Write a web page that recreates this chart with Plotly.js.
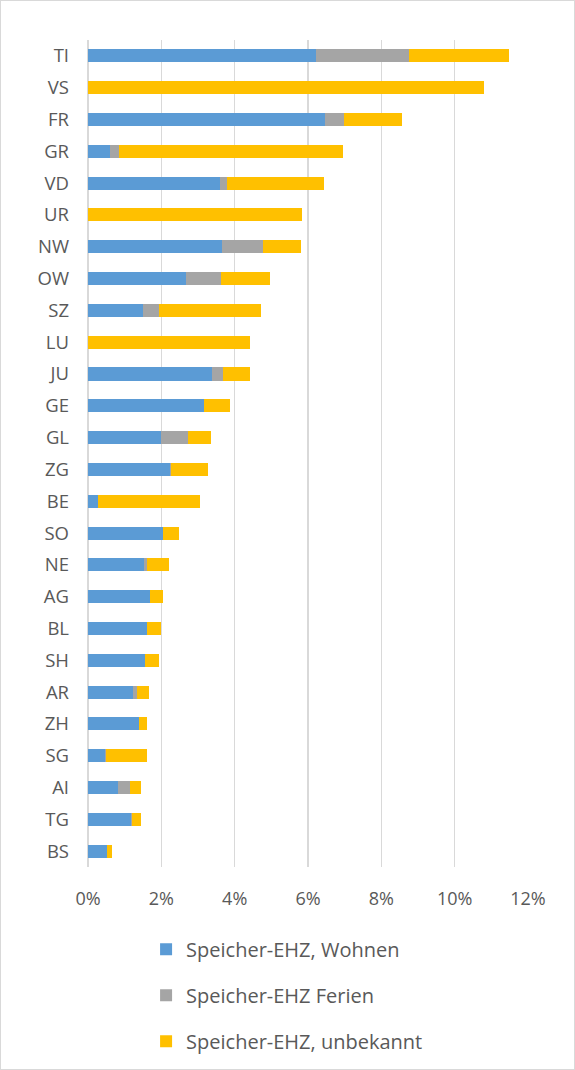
<!DOCTYPE html>
<html>
<head>
<meta charset="utf-8">
<script src="https://cdn.plot.ly/plotly-3.0.1.min.js"></script>
<style>
  html, body { margin: 0; padding: 0; background: #fff; }
  #chart { width: 573px; height: 1068px; border: 1px solid #d9d9d9; }
</style>
</head>
<body>
<div id="chart"></div>
<script>
const cantons = ["TI","VS","FR","GR","VD","UR","NW","OW","SZ","LU","JU","GE","GL","ZG","BE","SO","NE","AG","BL","SH","AR","ZH","SG","AI","TG","BS"];
const wohnen =   [6.23, 0,     6.45, 0.61, 3.59, 0,    3.66, 2.67, 1.51, 0,    3.38, 3.16, 1.98, 2.23, 0.28, 2.05, 1.54, 1.70, 1.62, 1.55, 1.22, 1.40, 0.45, 0.83, 1.17, 0.53];
const ferien =   [2.53, 0,     0.54, 0.24, 0.21, 0,    1.11, 0.95, 0.43, 0,    0.29, 0,    0.76, 0.04, 0,    0,    0.06, 0,    0,    0,    0.12, 0,    0.05, 0.32, 0.02, 0];
const unbekannt = [2.73, 10.81, 1.58, 6.10, 2.64, 5.84, 1.05, 1.35, 2.77, 4.42, 0.74, 0.71, 0.62, 1.00, 2.78, 0.42, 0.62, 0.35, 0.38, 0.39, 0.33, 0.22, 1.10, 0.30, 0.26, 0.13];
const seriesNames = ["Speicher-EHZ, Wohnen", "Speicher-EHZ Ferien", "Speicher-EHZ, unbekannt"];
const xTicks = [0, 2, 4, 6, 8, 10, 12];

const colors = ["#5B9BD5", "#A5A5A5", "#FFC000"];
const vals = [wohnen, ferien, unbekannt];
const font = "Open Sans, Liberation Sans, sans-serif";

const traces = vals.map((v, i) => ({
  type: "bar",
  orientation: "h",
  y: cantons,
  x: v,
  name: seriesNames[i],
  legendgroup: "g" + i,
  marker: { color: colors[i], line: { width: 0 } },
  hoverinfo: "x+y+name"
}));

const layout = {
  width: 573,
  height: 1068,
  barmode: "stack",
  bargap: 0.59,
  paper_bgcolor: "#fff",
  plot_bgcolor: "#fff",
  margin: { l: 87, r: 46, t: 39, b: 202, autoexpand: false },
  font: { family: font, color: "#595959", size: 17 },
  xaxis: {
    range: [0, 12],
    tickvals: xTicks,
    ticktext: xTicks.map(t => t + "%"),
    showgrid: true,
    gridcolor: "#d9d9d9",
    gridwidth: 1.5,
    zeroline: true,
    zerolinecolor: "#d9d9d9",
    zerolinewidth: 1.5,
    showline: false,
    ticks: "",
    ticklabelstandoff: 19,
    tickfont: { size: 18, color: "#595959", family: font },
    fixedrange: true
  },
  yaxis: {
    type: "category",
    categoryorder: "array",
    categoryarray: cantons,
    autorange: "reversed",
    showgrid: false,
    showline: false,
    ticks: "",
    ticklabelstandoff: 18,
    tickfont: { size: 18.5, color: "#595959", family: font },
    fixedrange: true
  },
  showlegend: true,
  legend: {
    orientation: "v",
    x: 0.132,
    xanchor: "left",
    y: -0.076,
    yanchor: "top",
    font: { size: 20, color: "#595959", family: font },
    tracegroupgap: 17,
    traceorder: "grouped"
  }
};

Plotly.newPlot("chart", traces, layout, { displayModeBar: false, staticPlot: true });
</script>
</body>
</html>
